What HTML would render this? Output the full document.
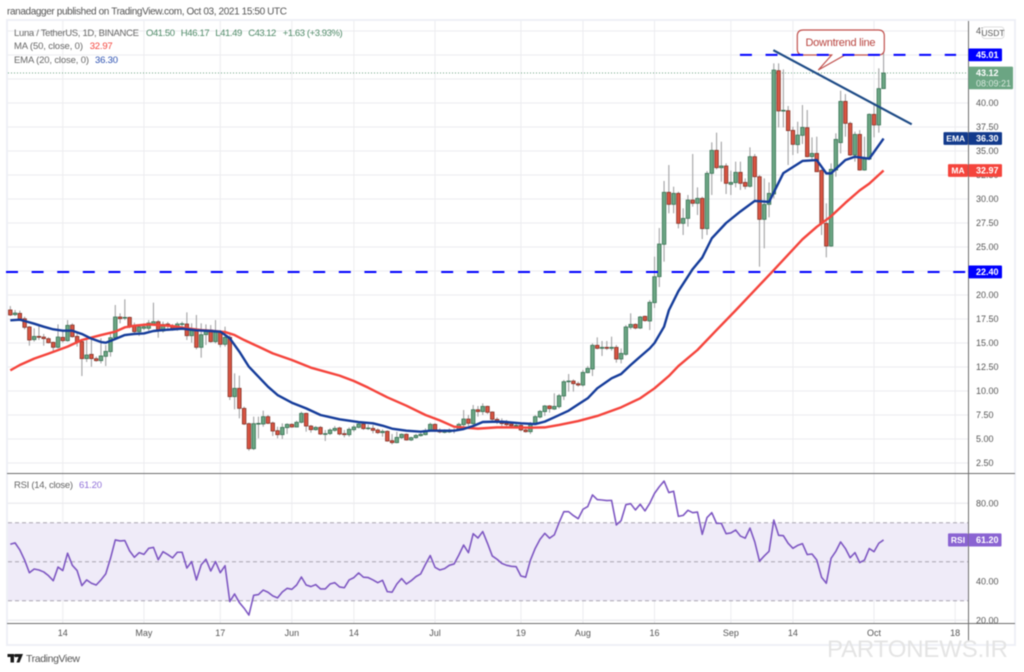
<!DOCTYPE html>
<html lang="en">
<head>
<meta charset="utf-8">
<title>Luna / TetherUS chart</title>
<style>
html,body{margin:0;padding:0;background:#fff;}
body{width:1024px;height:672px;overflow:hidden;}
#chart{display:block;font-family:"Liberation Sans",sans-serif;filter:blur(0.45px);}
</style>
</head>
<body>
<svg id="chart" xmlns="http://www.w3.org/2000/svg" width="1024" height="672" viewBox="0 0 1024 672">
  <text x="7" y="14.5" font-size="10" fill="#555" textLength="280">ranadagger published on TradingView.com, Oct 03, 2021 15:50 UTC</text>
  <rect x="7" y="20" width="1008" height="625" fill="#fff" stroke="#eef0f6" stroke-width="2"/>
  <g id="grid"></g>
  <rect id="rsiBand" fill="#efebf8"/>
  <g id="rsiLevels"></g>
  <line id="lastLine" stroke="#6ba583" stroke-width="1" stroke-dasharray="1 2"/>
  <g id="candles"></g>
  <polyline id="maLine" fill="none" stroke="#f5443c" stroke-width="2.4" stroke-linejoin="round"/>
  <polyline id="emaLine" fill="none" stroke="#153c9a" stroke-width="2.4" stroke-linejoin="round"/>
  <polyline id="rsiLine" fill="none" stroke="#7e57c2" stroke-width="1.6" stroke-linejoin="round"/>
  <g>
    <path d="M803.3 30H878.3Q884.3 30 884.3 36V49Q884.3 55 878.3 55H845L818.3 70L831.7 55H803.3Q797.3 55 797.3 49V36Q797.3 30 803.3 30Z" fill="#fff" stroke="#c0504d" stroke-width="1.2"/>
    <text x="840.5" y="46" font-size="11" text-anchor="middle" fill="#b8443f" textLength="70">Downtrend line</text>
  </g>
  <g id="levels"></g>
  <line id="trend" stroke="#1e4b86" stroke-width="2.2"/>
  <line x1="7" x2="1015" y1="623.5" y2="623.5" stroke="#6e6e6e" stroke-width="1"/>
  <line x1="7" x2="1015" y1="473.5" y2="473.5" stroke="#6e6e6e" stroke-width="1"/>
  <line x1="968.5" x2="968.5" y1="21" y2="642" stroke="#6e6e6e" stroke-width="1"/>
  <g id="axisLabels" font-size="9" fill="#555"></g>
  <g>
    <rect x="982" y="27" width="22" height="11.5" rx="3" fill="#fff" stroke="#ddd"/>
    <text x="993" y="36" font-size="8.5" fill="#555" text-anchor="middle">USDT</text>
  </g>
  <g id="tags" font-size="9" font-weight="bold"></g>
  <g font-size="9.5" fill="#666">
    <text x="14" y="36" textLength="125">Luna / TetherUS, 1D, BINANCE</text>
    <g fill="#4f8a68">
      <text x="146" y="36" textLength="29">O41.50</text>
      <text x="180.7" y="36" textLength="29">H46.17</text>
      <text x="215.3" y="36" textLength="27">L41.49</text>
      <text x="248.3" y="36" textLength="28">C43.12</text>
      <text x="282.7" y="36" textLength="60">+1.63 (+3.93%)</text>
    </g>
    <text x="14" y="49" textLength="69">MA (50, close, 0)</text>
    <text x="89.7" y="49" fill="#f5443c" textLength="23">32.97</text>
    <text x="14" y="63" textLength="75">EMA (20, close, 0)</text>
    <text x="95" y="63" fill="#2a4fb0" textLength="23">36.30</text>
    <text x="14" y="488" textLength="59">RSI (14, close)</text>
    <text x="79" y="488" fill="#8f6fd8" textLength="23">61.20</text>
  </g>
  <g>
    <path d="M7.5 654H14V662.5H10.5V657H7.5ZM15 654H23L19.5 662.5H16.5L18.5 657H16.6A1.7 1.7 0 0 1 15 654Z" fill="#1a1a1a"/>
    <text x="26" y="662" font-size="10.5" fill="#555" textLength="54">TradingView</text>
  </g>
  <text x="827" y="657" font-size="24" fill="#e4e4e4" textLength="181">PARTONEWS.IR</text>
</svg>
<script>
const opens=[18.44,17.95,18.09,17.53,16.67,15.35,15.69,15.62,15.45,15.07,
14.55,15.59,15.24,16.87,15.69,15.14,13.37,13.82,13.37,13.16,
13.61,14.10,15.55,17.71,17.60,17.67,16.80,16.18,16.53,16.53,
17.01,17.22,16.25,16.98,16.77,16.53,16.94,16.98,15.76,16.28,
14.55,15.87,16.35,15.14,16.08,14.86,15.59,9.41,10.28,8.19,
6.60,3.99,6.56,6.56,7.33,6.67,5.87,5.45,6.18,6.53,
6.25,6.74,7.67,6.35,5.97,6.21,5.52,5.56,5.90,6.15,
5.56,5.45,5.97,6.21,6.56,6.08,6.11,5.94,5.66,5.80,
4.83,4.62,5.14,5.49,4.90,5.14,5.35,5.45,5.87,6.53,
5.87,5.69,5.73,5.83,5.94,6.49,7.08,6.60,8.05,7.85,
8.40,7.81,7.05,6.87,6.63,6.56,6.39,6.42,5.94,5.76,
6.60,7.29,7.85,8.44,8.12,8.37,9.48,10.97,11.04,10.76,
10.62,11.91,12.29,14.76,14.44,14.55,14.44,14.55,13.33,13.82,
16.63,16.94,16.56,17.78,17.29,19.20,21.91,25.28,30.70,29.44,
30.59,27.46,27.98,29.89,29.55,30.07,26.91,32.67,35.07,33.26,
33.44,31.53,31.70,32.78,31.73,31.32,34.41,32.32,27.88,29.44,
30.52,43.37,39.17,39.20,37.15,35.66,36.63,37.43,34.41,34.75,
32.98,27.46,25.10,33.02,35.87,40.17,37.88,34.58,36.73,33.02,
34.16,38.82,37.71,41.50];
const highs=[18.85,18.44,18.37,17.74,16.77,16.53,16.77,15.94,15.59,15.14,
16.94,16.35,17.39,17.05,16.08,15.31,15.31,15.38,13.58,15.49,
14.79,16.00,18.96,18.09,19.55,17.74,17.12,16.87,17.05,17.39,
19.20,17.39,17.22,17.19,16.98,17.19,17.22,18.19,17.05,17.92,
17.05,16.94,16.87,17.39,16.35,16.70,15.83,11.84,11.60,8.37,
6.70,7.33,7.33,7.95,7.50,6.81,6.28,6.63,6.63,6.63,
6.91,7.85,7.74,6.46,6.35,6.35,5.94,6.11,6.35,6.28,
5.94,6.21,6.46,6.81,6.70,6.49,6.46,6.11,6.01,5.90,
5.52,5.76,5.59,5.59,5.24,5.52,5.66,6.11,6.70,6.63,
6.11,6.01,6.11,6.11,6.70,8.02,7.50,8.54,8.44,8.71,
8.47,7.88,7.26,7.15,6.98,6.81,6.77,6.63,6.21,6.77,
7.50,8.02,8.54,8.54,9.76,9.69,11.15,11.77,11.21,10.97,
12.19,12.60,14.96,15.59,15.21,15.21,15.66,14.79,14.44,16.87,
18.09,17.05,17.81,17.85,19.48,23.99,26.98,31.88,33.54,31.28,
30.76,29.03,30.42,34.69,31.21,30.24,32.91,35.90,36.91,35.97,
33.71,32.95,33.89,33.89,32.15,35.38,34.69,32.50,32.15,31.73,
44.13,44.13,43.50,39.69,37.53,38.05,39.79,39.27,36.42,36.49,
33.09,29.55,33.71,36.84,41.28,40.93,38.05,37.01,37.18,36.49,
38.92,39.96,43.61,46.17];
const lows=[17.81,17.81,17.33,16.42,14.72,15.14,15.31,14.72,14.96,14.17,
14.44,15.03,15.14,15.55,14.62,11.56,13.02,12.53,13.05,12.88,
12.60,13.58,15.38,17.05,17.39,16.53,15.83,15.73,16.35,16.28,
16.87,15.55,16.08,16.35,16.28,16.28,16.53,15.31,15.03,14.34,
13.47,14.79,15.03,14.96,14.55,14.62,9.06,8.09,7.15,6.46,
3.78,3.85,5.07,6.28,6.56,5.31,5.07,5.00,5.52,6.18,
6.21,6.63,5.76,5.66,5.87,5.42,4.79,5.42,5.76,5.38,
5.17,5.24,5.76,6.11,5.94,5.94,5.59,5.52,5.24,4.72,
4.44,4.55,5.00,4.83,4.79,5.03,5.24,5.38,5.76,5.73,
5.59,5.59,5.62,5.59,5.87,6.28,6.35,6.46,7.33,7.50,
7.60,6.91,6.56,6.35,6.21,6.21,6.11,5.80,5.66,5.52,
6.53,7.15,7.40,7.74,8.02,8.19,9.06,9.93,9.93,10.45,
10.45,11.84,11.56,14.34,13.65,14.27,14.20,12.95,12.88,13.68,
16.42,16.42,16.46,17.22,16.35,18.65,20.83,23.47,28.51,28.51,
26.94,26.25,27.12,29.20,28.33,25.83,26.25,30.42,33.09,31.80,
30.52,30.42,31.21,30.94,31.01,31.21,29.72,22.95,24.86,28.09,
30.07,37.46,37.46,33.54,34.58,34.75,35.73,34.34,34.13,32.84,
26.25,23.92,25.03,32.32,34.75,36.49,34.48,33.89,32.95,32.95,
34.06,36.42,36.91,41.49];
const closes=[17.92,18.12,17.50,16.63,15.31,15.69,15.59,15.45,15.03,14.55,
15.62,15.24,16.84,15.66,15.14,13.37,13.75,13.37,13.16,13.65,
14.13,15.55,17.71,17.53,17.67,16.80,16.18,16.67,16.70,17.08,
17.22,16.25,16.94,16.80,16.49,16.98,17.01,15.76,16.28,14.55,
15.87,16.35,15.14,16.11,14.86,15.59,9.41,10.28,8.19,6.56,
3.99,6.60,6.63,7.33,6.63,5.83,5.45,6.21,6.53,6.25,
6.74,7.67,6.35,5.97,6.21,5.52,5.56,5.94,6.11,5.52,
5.45,6.01,6.25,6.56,6.08,6.15,5.90,5.66,5.80,4.79,
4.62,5.17,5.49,4.90,5.14,5.38,5.49,5.90,6.53,5.83,
5.73,5.80,5.94,5.94,6.53,7.08,6.63,8.05,7.85,8.40,
7.78,7.05,6.84,6.60,6.49,6.39,6.42,5.94,5.76,6.63,
7.33,7.88,8.44,8.16,8.40,9.51,10.97,11.04,10.76,10.62,
11.94,12.36,14.76,14.44,14.55,14.44,14.55,13.33,13.92,16.67,
16.94,16.56,17.71,17.33,19.24,21.91,25.31,30.70,29.44,30.59,
27.46,27.98,29.89,29.55,30.07,26.91,32.67,35.07,33.26,33.44,
31.63,31.73,32.78,31.63,31.32,34.41,32.32,27.88,29.44,30.59,
43.43,39.17,39.24,37.12,35.69,36.66,37.46,34.41,34.75,32.84,
27.46,25.10,33.09,36.21,40.17,37.88,34.58,36.73,33.02,34.16,
38.82,37.71,41.50,43.12];
const emaDays=[0,2,3,5,7,9,11,13,15,17,19,20,22,24,26,28,30,32,34,36,39,42,44,46,48,50,52,54,56,59,62,65,69,71,73,76,78,80,83,86,88,90,93,95,97,99,102,104,107,110,112,114,117,119,121,123,126,128,130,132,134,135,137,138,140,143,145,147,150,153,156,159,160,162,166,169,171,172,175,177,180,183];
const emaValues=[17.36,17.43,17.29,17.01,16.70,16.42,16.28,16.28,15.94,15.45,15.10,15.03,15.42,15.83,15.94,16.00,16.25,16.35,16.42,16.49,16.32,16.25,16.18,15.49,14.10,12.53,11.49,10.45,9.58,8.78,8.19,7.50,7.05,6.91,6.77,6.63,6.39,6.08,5.87,5.76,5.87,5.87,5.87,6.04,6.35,6.77,6.81,6.77,6.63,6.56,6.81,7.26,7.95,8.61,9.24,10.28,11.32,11.77,12.71,13.58,14.44,15.0,16.7,18.4,20.4,22.7,23.9,25.9,27.5,28.7,29.8,29.7,30.7,32.7,33.96,34.06,32.67,32.67,34.06,34.4,34.2,36.30];
const maDays=[0,2,5,8,12,15,19,22,24,26,29,31,34,37,40,42,45,47,49,52,55,59,63,69,72,75,79,83,87,90,93,96,98,102,105,109,112,115,119,123,128,132,135,138,140,144,148,152,156,160,163,166,169,172,175,178,180,183];
const maValues=[12.15,12.71,13.37,13.89,14.62,15.31,15.83,16.18,16.63,16.80,16.94,16.87,16.77,16.53,16.35,16.28,16.14,15.83,15.31,14.62,13.92,13.23,12.43,11.60,11.04,10.35,9.34,8.47,7.50,6.94,6.28,6.15,6.08,6.21,6.21,6.18,6.21,6.46,6.87,7.40,8.30,9.24,10.28,11.56,12.60,14.27,16.35,18.4,20.5,22.6,24.2,25.8,27.1,28.2,29.6,30.9,31.6,32.97];
const rsiValues=[59.0,59.7,56.1,50.9,44.4,46.3,45.8,44.8,42.9,40.3,47.3,45.5,54.4,48.2,45.5,37.8,40.7,39.0,38.1,40.7,43.8,51.8,61.2,60.7,60.9,55.6,52.3,54.7,53.8,56.9,57.4,51.1,55.2,53.7,52.0,54.9,54.9,46.8,50.1,40.7,48.4,51.3,45.3,50.1,44.4,48.0,29.6,33.5,29.1,26.2,22.7,32.8,33.2,35.5,34.4,32.5,31.5,34.5,36.4,35.9,38.1,42.2,38.1,37.3,38.3,36.1,36.1,38.6,39.3,37.1,36.7,40.7,41.9,44.3,42.1,41.9,40.7,39.3,40.5,34.7,34.4,38.6,41.4,38.6,40.3,42.4,43.8,48.7,53.2,47.2,45.8,46.5,48.2,48.9,53.5,58.6,54.7,64.4,62.2,65.5,59.5,53.0,51.3,49.2,48.2,47.7,47.5,42.7,42.1,50.9,56.9,61.5,64.6,62.1,63.8,70.1,75.7,75.7,73.7,72.1,76.9,78.3,84.3,81.9,81.7,81.4,81.5,68.9,71.1,79.3,79.8,76.6,79.5,76.1,80.0,85.1,88.5,91.4,85.5,86.2,73.3,73.8,76.4,75.2,75.5,64.1,72.7,75.2,69.7,69.7,64.4,64.8,66.3,63.2,62.1,67.3,60.3,50.3,53.0,55.4,71.4,63.6,63.4,59.5,56.9,58.4,59.3,53.7,54.0,50.9,42.1,39.0,51.8,55.4,60.2,56.8,52.1,54.7,49.6,50.9,56.8,55.2,59.5,61.2];
const priceTicks=[2.5,5,7.5,10,12.5,15,17.5,20,22.5,25,27.5,30,32.5,35,37.5,40,42.5,45,47.5];
const rsiTicks=[20,40,60,80];
const rsiAxisLabels=[20,40,80];
const rsiBands=[70,50,30];
const timeLabels=['14','May','17','Jun','14','Jul','19','Aug','16','Sep','14','Oct','18'];
const timeDays=[11,28,44,59,72,89,107,120,135,151,164,181,198];
const keyLevels=[45.01,22.40];
const keyLevelStartDays=[152.9,-0.9];
const keyLevelEndDays=[198.2,200.2];
const trendDays=[159.9,188.9];
const trendPrices=[45.5,37.78];
const lastPrice=43.12;
const countdown='08:09:21';
const rsiLast=61.20;

const SVGNS='http://www.w3.org/2000/svg';
const xOf=i=>10.3+4.772*i;
const yOf=p=>487-9.6*p;
const rsiY=v=>503.3+(80-v)*1.95;
const PLOT_L=8,PLOT_R=968,PANE_TOP=21;
function make(tag,parent){const e=document.createElementNS(SVGNS,tag);parent.appendChild(e);return e;}
function set(e,o){for(const k in o)e.setAttribute(k,o[k]);return e;}

const grid=document.getElementById('grid');
priceTicks.forEach(p=>{
  const l=make('line',grid);
  
  
  set(l,{x1:PLOT_L,x2:PLOT_R,y1:yOf(p),y2:yOf(p),stroke:'#ececef','stroke-width':1});
});
rsiTicks.forEach(v=>{
  const l=make('line',grid);
  
  
  set(l,{x1:PLOT_L,x2:PLOT_R,y1:rsiY(v),y2:rsiY(v),stroke:'#e6e6ea','stroke-width':1});
});
timeDays.forEach(d=>{
  const l=make('line',grid);
  
  
  set(l,{x1:xOf(d),x2:xOf(d),y1:PANE_TOP,y2:623,stroke:'#ececef','stroke-width':1});
});

set(document.getElementById('rsiBand'),{x:PLOT_L,width:PLOT_R-PLOT_L,y:rsiY(rsiBands[0]),height:rsiY(rsiBands[2])-rsiY(rsiBands[0])});
const rsiLevels=document.getElementById('rsiLevels');
rsiBands.forEach(v=>{
  const l=make('line',rsiLevels);
  
  
  set(l,{x1:PLOT_L,x2:PLOT_R,y1:rsiY(v),y2:rsiY(v),stroke:'#a8a4b0','stroke-width':1,'stroke-dasharray':'4 3'});
});
set(document.getElementById('lastLine'),{x1:PLOT_L,x2:PLOT_R,y1:yOf(lastPrice),y2:yOf(lastPrice)});

const candlesG=document.getElementById('candles');
opens.forEach((o,i)=>{
  const c=closes[i],up=c>=o,x=xOf(i);
  const g=make('g',candlesG);
  
  
  const w=make('line',g);
  
  
  set(w,{x1:x,x2:x,y1:yOf(highs[i]),y2:yOf(lows[i]),stroke:'#a2a2a4','stroke-width':1.1});
  const b=make('rect',g);
  
  
  const top=yOf(Math.max(o,c)),h=Math.max(Math.abs(yOf(o)-yOf(c)),0.8);
  set(b,{x:x-1.8,y:top,width:3.6,height:h,fill:up?'#6ba583':'#d75442',stroke:up?'#2f6b4c':'#7c2b20','stroke-width':0.7});
});

document.getElementById('maLine').setAttribute('points',maDays.map((d,k)=>xOf(d)+','+yOf(maValues[k])).join(' '));
document.getElementById('emaLine').setAttribute('points',emaDays.map((d,k)=>xOf(d)+','+yOf(emaValues[k])).join(' '));
document.getElementById('rsiLine').setAttribute('points',rsiValues.map((v,i)=>xOf(i)+','+rsiY(v)).join(' '));

const levels=document.getElementById('levels');
keyLevels.forEach((p,k)=>{
  const l=make('line',levels);
  
  
  set(l,{x1:xOf(keyLevelStartDays[k]),x2:xOf(keyLevelEndDays[k]),y1:yOf(p),y2:yOf(p),stroke:'#0000ff','stroke-width':2,'stroke-dasharray':'12 13.6'});
});
set(document.getElementById('trend'),{x1:xOf(trendDays[0]),x2:xOf(trendDays[1]),y1:yOf(trendPrices[0]),y2:yOf(trendPrices[1])});

const axisLabels=document.getElementById('axisLabels');
priceTicks.forEach(p=>{
  const t=make('text',axisLabels);
  
  
  set(t,{x:976,y:yOf(p)+3.2});
  t.textContent=p.toFixed(2);
});
rsiAxisLabels.forEach(v=>{
  const t=make('text',axisLabels);
  
  
  set(t,{x:976,y:rsiY(v)+3.2});
  t.textContent=v.toFixed(2);
});
timeLabels.forEach((s,k)=>{
  const t=make('text',axisLabels);
  
  
  set(t,{x:xOf(timeDays[k]),y:636,'text-anchor':'middle'});
  t.textContent=s;
});

const tags=document.getElementById('tags');
function valueTag(y,h,w,fill,label,name){
  const g=make('g',tags);
  
  
  const r=make('rect',g);
  
  
  set(r,{x:968.5,y:y,width:w,height:h,fill:fill,rx:1});
  const t=make('text',g);
  
  
  set(t,{x:976,y:y+9.6,fill:'#fff'});
  t.textContent=label;
  return g;
}
function nameTag(y,h,x,fill,label,name){
  const r=make('rect',tags);
  
  
  set(r,{x:x,y:y,width:968-x,height:h,fill:fill,rx:1});
  const t=make('text',tags);
  
  
  set(t,{x:(x+968)/2,y:y+9.6,fill:'#fff','text-anchor':'middle','font-size':8.5});
  t.textContent=label;
}
keyLevels.forEach(p=>{
  valueTag(yOf(p)-6.4,12.8,33.5,'#0000ff',p.toFixed(2),'key-level-tag');
});
const lastTag=valueTag(yOf(lastPrice)-6.4,22.6,44.5,'#6ba583',lastPrice.toFixed(2),'last-price-tag');
const cd=make('text',lastTag);


set(cd,{x:976,y:yOf(lastPrice)+13.5,fill:'#d8e8de','font-weight':'normal'});
cd.textContent=countdown;
const emaLast=emaValues[emaValues.length-1],maLast=maValues[maValues.length-1];
nameTag(yOf(emaLast)-6.4,12.8,943.5,'#123a8c','EMA','ema-name-tag');
valueTag(yOf(emaLast)-6.4,12.8,33.5,'#123a8c',emaLast.toFixed(2),'ema-value-tag');
nameTag(yOf(maLast)-6.4,12.8,948,'#f5443c','MA','ma-name-tag');
valueTag(yOf(maLast)-6.4,12.8,33.5,'#f5443c',maLast.toFixed(2),'ma-value-tag');
nameTag(rsiY(rsiLast)-6.6,13.2,948,'#8a63d2','RSI','rsi-name-tag');
valueTag(rsiY(rsiLast)-6.6,13.2,33,'#8a63d2',rsiLast.toFixed(2),'rsi-value-tag');
</script>
</body>
</html>
